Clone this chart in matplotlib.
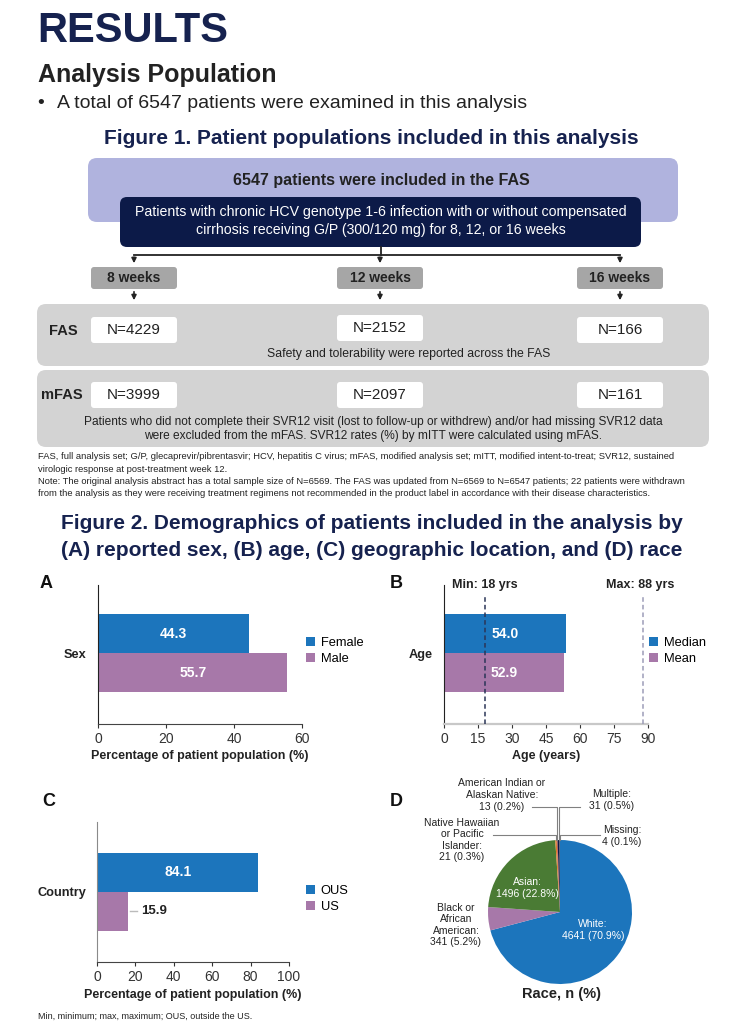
import matplotlib
matplotlib.use("Agg")
import matplotlib.pyplot as plt
from matplotlib.patches import FancyBboxPatch, Patch
from matplotlib import font_manager as fm
import numpy as np

# ---- data ----
weeks = ['8 weeks', '12 weeks', '16 weeks']
fas_n = [4229, 2152, 166]
mfas_n = [3999, 2097, 161]

sex_labels = ['Female', 'Male']
sex_pct = [44.3, 55.7]

age_labels = ['Median', 'Mean']
age_vals = [54.0, 52.9]
age_min, age_max = 18, 88

country_labels = ['OUS', 'US']
country_pct = [84.1, 15.9]

race_labels = ['White', 'Black or\nAfrican\nAmerican', 'Asian',
               'Native Hawaiian\nor Pacific\nIslander', 'American Indian or\nAlaskan Native',
               'Multiple', 'Missing']
race_n = [4641, 341, 1496, 21, 13, 31, 4]
race_pct = [70.9, 5.2, 22.8, 0.3, 0.2, 0.5, 0.1]

# ---- style ----
names = {f.name for f in fm.fontManager.ttflist}
NARROW = 'Liberation Sans Narrow' if 'Liberation Sans Narrow' in names else 'Liberation Sans'
plt.rcParams['font.family'] = [NARROW, 'DejaVu Sans']

BLUE = '#1c75bc'
PURPLE = '#a778a9'
GREEN = '#4a7b34'
NAVY = '#0c1a48'
TITLE = '#16224f'
TXT = '#222222'

W, H = 734, 1022
fig = plt.figure(figsize=(W / 100, H / 100), dpi=100)
bg = fig.add_axes([0, 0, 1, 1])
bg.set_xlim(0, W)
bg.set_ylim(H, 0)
bg.axis('off')


def ax_at(x0, y0, x1, y1):
    return fig.add_axes([x0 / W, 1 - y1 / H, (x1 - x0) / W, (y1 - y0) / H])


def box(x0, y0, x1, y1, color, r=8):
    bg.add_patch(FancyBboxPatch((x0, y0), x1 - x0, y1 - y0,
                                boxstyle='round,pad=0,rounding_size=%d' % r,
                                fc=color, ec='none'))


# ---- header ----
bg.text(37, 31, 'RESULTS', fontsize=30, fontweight='bold', color=TITLE, va='center')
bg.text(38, 75, 'Analysis Population', fontsize=18, fontweight='bold', color=TXT, va='center')
bg.text(37, 103, '\u2022', fontsize=14, color=TXT, va='center')
bg.text(57, 103, 'A total of 6547 patients were examined in this analysis', fontsize=14,
        color=TXT, va='center')
bg.text(371, 138, 'Figure 1. Patient populations included in this analysis', fontsize=15,
        fontweight='bold', color=TITLE, va='center', ha='center')

# ---- flowchart ----
box(88, 158, 678, 222, '#b0b3de', 9)
bg.text(381, 180, '6547 patients were included in the FAS', fontsize=11.5, fontweight='bold',
        color=TXT, ha='center', va='center')
box(120, 197, 641, 247, NAVY, 7)
bg.text(381, 221, 'Patients with chronic HCV genotype 1-6 infection with or without compensated\n'
        'cirrhosis receiving G/P (300/120 mg) for 8, 12, or 16 weeks', fontsize=10.2,
        color='white', ha='center', va='center', linespacing=1.3)

cx = [134, 380, 620]
bg.plot([381, 381], [247, 255], color=TXT, lw=1.3)
bg.plot([cx[0], cx[-1]], [255, 255], color=TXT, lw=1.3)
for x, wk in zip(cx, weeks):
    bg.annotate('', xy=(x, 266), xytext=(x, 254.5),
                arrowprops=dict(arrowstyle='-|>', color=TXT, lw=1.2, mutation_scale=7))
    box(x - 43, 267, x + 43, 289, '#a6a6a6', 3)
    bg.text(x, 278, wk, fontsize=10, fontweight='bold', color=TXT, ha='center', va='center')
    bg.annotate('', xy=(x, 303), xytext=(x, 289),
                arrowprops=dict(arrowstyle='-|>', color=TXT, lw=1.2, mutation_scale=7))

box(37, 304, 709, 366, '#d3d3d3', 9)
box(37, 370, 709, 447, '#d3d3d3', 9)
bg.text(63, 331, 'FAS', fontsize=10.5, fontweight='bold', color=TXT, ha='center', va='center')
bg.text(62, 395, 'mFAS', fontsize=10.5, fontweight='bold', color=TXT, ha='center', va='center')
for i, (x, a, b) in enumerate(zip(cx, fas_n, mfas_n)):
    yc = 328 if i == 1 else 330
    box(x - 43, yc - 13, x + 43, yc + 13, 'white', 3)
    bg.text(x, yc, 'N=%d' % a, fontsize=11, color=TXT, ha='center', va='center')
    box(x - 43, 382, x + 43, 408, 'white', 3)
    bg.text(x, 395, 'N=%d' % b, fontsize=11, color=TXT, ha='center', va='center')
bg.text(409, 354, 'Safety and tolerability were reported across the FAS', fontsize=8.8,
        color=TXT, ha='center', va='center')
bg.text(373, 429, 'Patients who did not complete their SVR12 visit (lost to follow-up or withdrew) '
        'and/or had missing SVR12 data\nwere excluded from the mFAS. SVR12 rates (%) by mITT '
        'were calculated using mFAS.', fontsize=8.6, color=TXT, ha='center', va='center',
        linespacing=1.3)

foot = ('FAS, full analysis set; G/P, glecaprevir/pibrentasvir; HCV, hepatitis C virus; mFAS, '
        'modified analysis set; mITT, modified intent-to-treat; SVR12, sustained\n'
        'virologic response at post-treatment week 12.\n'
        'Note: The original analysis abstract has a total sample size of N=6569. The FAS was '
        'updated from N=6569 to N=6547 patients; 22 patients were withdrawn\n'
        'from the analysis as they were receiving treatment regimens not recommended in the '
        'product label in accordance with their disease characteristics.')
bg.text(38, 452, foot, fontsize=6.75, color=TXT, va='top', linespacing=1.5)

bg.text(372, 537, 'Figure 2. Demographics of patients included in the analysis by\n'
        '(A) reported sex, (B) age, (C) geographic location, and (D) race', fontsize=15,
        fontweight='bold', color=TITLE, ha='center', va='center', linespacing=1.5)


# ---- bar panels ----
def bar_panel(box_px, vals, labels, xmax, step, xlabel, cat, spine_col, leg_x, leg_y):
    ax = ax_at(*box_px)
    y0, y1 = box_px[1], box_px[3]
    unit = 39.0
    ax.barh([0, 1], vals, height=1.0, color=[BLUE, PURPLE])
    ax.set_ylim((y1 - (y0 + 49)) / unit, -49 / unit)
    ax.set_xlim(0, xmax)
    ax.set_xticks(np.arange(0, xmax + 1, step))
    ax.set_yticks([0.5])
    ax.set_yticklabels([cat], fontsize=9.2, fontweight='bold', color=TXT)
    ax.tick_params(axis='y', length=0, pad=8)
    ax.tick_params(axis='x', length=3, labelsize=10, colors='#333333', pad=3)
    for s in ['top', 'right']:
        ax.spines[s].set_visible(False)
    ax.spines['left'].set_color('#222222')
    ax.spines['bottom'].set_color(spine_col)
    ax.set_xlabel(xlabel, fontsize=9, fontweight='bold', color=TXT, labelpad=3)
    ax.set_facecolor('none')
    ax.legend(handles=[Patch(fc=BLUE, label=labels[0]), Patch(fc=PURPLE, label=labels[1])],
              loc='center left', bbox_to_anchor=(leg_x / W, 1 - leg_y / H),
              bbox_transform=fig.transFigure, frameon=False, fontsize=9.3,
              handlelength=0.7, handleheight=0.7, handletextpad=0.45, labelspacing=0.25,
              borderaxespad=0, borderpad=0)
    return ax


axA = bar_panel((98, 585, 302, 724), sex_pct, sex_labels, 60, 20,
                'Percentage of patient population (%)', 'Sex', '#444444', 306, 651)
for i, v in enumerate(sex_pct):
    axA.text(v / 2, i, '%.1f' % v, color='white', fontsize=10, fontweight='bold',
             ha='center', va='center')
bg.text(40, 584, 'A', fontsize=13, fontweight='bold', color='#111111', va='center')

axB = bar_panel((444, 585, 648, 724), age_vals, age_labels, 90, 15, 'Age (years)', 'Age',
                '#c8c8c8', 649, 651)
axB.spines['bottom'].set_linewidth(1.6)
for i, v in enumerate(age_vals):
    axB.text(v / 2, i, '%.1f' % v, color='white', fontsize=10, fontweight='bold',
             ha='center', va='center', zorder=5)
axB.axvline(age_min, ymax=0.93, color='#2b3557', ls=(0, (3, 2)), lw=1.1, zorder=4)
axB.axvline(age_max, ymax=0.93, color='#9c9cb8', ls=(0, (3, 2)), lw=1.1, zorder=4)
axB.text(age_min, 1.0, 'Min: %d yrs' % age_min, transform=axB.get_xaxis_transform(),
         fontsize=9, fontweight='bold', color=TXT, ha='center', va='center')
axB.text(age_max - 1.5, 1.0, 'Max: %d yrs' % age_max, transform=axB.get_xaxis_transform(),
         fontsize=9, fontweight='bold', color=TXT, ha='center', va='center')
bg.text(390, 584, 'B', fontsize=13, fontweight='bold', color='#111111', va='center')

axC = bar_panel((97, 822, 289, 962), country_pct, country_labels, 100, 20,
                'Percentage of patient population (%)', 'Country', '#444444', 306, 899)
axC.spines['left'].set_color('#8a8a8a')
axC.set_ylim((962 - 872) / 39.0, (822 - 872) / 39.0)
axC.text(country_pct[0] / 2, 0, '%.1f' % country_pct[0], color='white', fontsize=10,
         fontweight='bold', ha='center', va='center')
axC.plot([country_pct[1] + 1.5, country_pct[1] + 5], [1, 1], color='#bbbbbb', lw=1)
axC.text(country_pct[1] + 7, 1, '%.1f' % country_pct[1], color=TXT, fontsize=9.5,
         fontweight='bold', ha='left', va='center')
bg.text(42, 802, 'C', fontsize=13, fontweight='bold', color='#111111', va='center')

# ---- pie ----
bg.text(390, 802, 'D', fontsize=13, fontweight='bold', color='#111111', va='center')
axD = ax_at(488, 840, 632, 984)
race_colors = [BLUE, PURPLE, GREEN, '#e07b28', '#c0504d', NAVY, '#9e9e9e']
wedges, _ = axD.pie(race_n, colors=race_colors, startangle=90, counterclock=False,
                    wedgeprops=dict(linewidth=0))
axD.set_xlim(-1, 1)
axD.set_ylim(-1, 1)

# overlay for pie annotations (drawn above the pie axes)
top = fig.add_axes([0, 0, 1, 1])
top.set_xlim(0, W)
top.set_ylim(H, 0)
top.axis('off')


def edge_point(w):
    t = np.deg2rad((w.theta1 + w.theta2) / 2)
    p = axD.transData.transform((np.cos(t), np.sin(t)))
    return top.transData.inverted().transform(p)


def rlabel(i):
    return '%s:\n%d (%.1f%%)' % (race_labels[i], race_n[i], race_pct[i])


top.text(593, 930, rlabel(0), fontsize=7.5, color='white', ha='center', va='center',
         linespacing=1.2)
top.text(527, 888, rlabel(2), fontsize=7.5, color='white', ha='center', va='center',
         linespacing=1.2)
top.text(456, 925, rlabel(1), fontsize=7.5, color=TXT, ha='center', va='center',
         linespacing=1.2)
small = [(3, 462, 840, 493, 835), (4, 502, 795, 532, 807), (5, 612, 800, 580, 807),
         (6, 622, 836, 600, 835)]
for i, tx, ty, lx, ly in small:
    top.text(tx, ty, rlabel(i), fontsize=7.5, color=TXT, ha='center', va='center',
             linespacing=1.2)
    ex, ey = edge_point(wedges[i])
    top.plot([lx, ex, ex], [ly, ly, ey], color='#808080', lw=0.8)
top.text(562, 994, 'Race, n (%)', fontsize=10.5, fontweight='bold', color=TXT, ha='center',
         va='center')

top.text(38, 1016, 'Min, minimum; max, maximum; OUS, outside the US.', fontsize=6.5,
         color=TXT, va='center')

fig.savefig('out.png', dpi=100)
